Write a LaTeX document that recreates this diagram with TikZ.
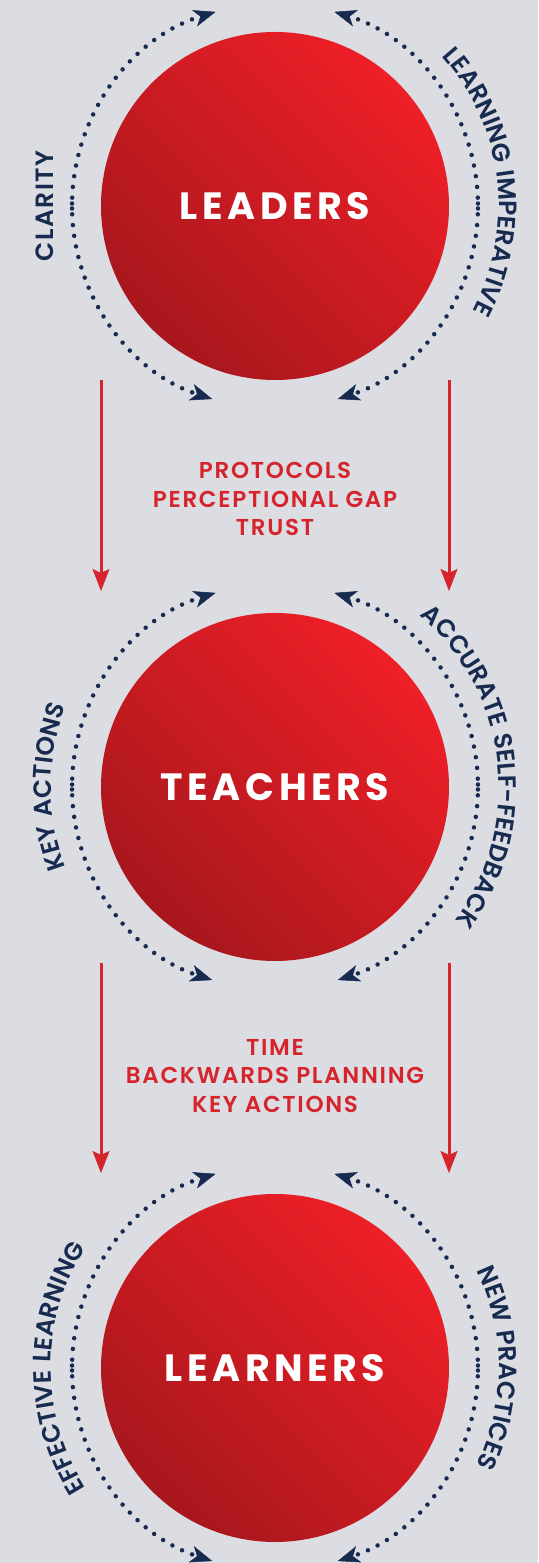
\documentclass[tikz,border=0pt]{standalone}
\usepackage{fontspec}
\usetikzlibrary{arrows.meta,decorations.text}

\newfontfamily\semib{Poppins SemiBold}
\newfontfamily\boldp{Poppins Bold}

\definecolor{bgcol}{HTML}{DCDDE2}
\definecolor{navy}{HTML}{172A4F}
\definecolor{lblred}{HTML}{D6242C}
\definecolor{discbright}{HTML}{EE1F27}
\definecolor{discmid}{HTML}{CF1C23}
\definecolor{discdark}{HTML}{A7171D}

\newcommand\titlefont{\boldp\fontsize{38}{38}\selectfont\addfontfeatures{LetterSpace=12}}
\newcommand\labelfont{\semib\fontsize{25}{25}\selectfont\addfontfeatures{LetterSpace=6}}
\newcommand\redfont{\semib\fontsize{23}{28.5}\selectfont\addfontfeatures{LetterSpace=7.5}}

\tikzset{
  disc/.style={circle, minimum size=348pt, inner sep=0pt,
    top color=discbright, middle color=discmid, bottom color=discdark,
    shading angle=-45, text=white, font=\titlefont},
  redlabel/.style={align=center, text=lblred, font=\redfont},
  sidelabel/.style={text=navy, font=\labelfont},
  dotarc/.style={draw=navy, line width=4.5pt, line cap=round,
    dash pattern=on 0pt off 10.8pt,
    -{Stealth[length=22pt,width=17pt,inset=6pt,line width=0.5pt]}},
  flowarrow/.style={draw=lblred, line width=3pt,
    -{Stealth[length=22pt,width=17pt,inset=4pt,line width=0.5pt]}}
}

% dotted double arcs around a disc, each half starting at the side
\newcommand\ringarrows[1]{%
  \draw[dotarc] ([shift={(180.7:203pt)}]#1.center) arc[start angle=180.7, end angle=107, radius=203pt];
  \draw[dotarc] ([shift={(179.3:203pt)}]#1.center) arc[start angle=179.3, end angle=252, radius=203pt];
  \draw[dotarc] ([shift={(-0.7:203pt)}]#1.center) arc[start angle=-0.7, end angle=73, radius=203pt];
  \draw[dotarc] ([shift={(0.7:203pt)}]#1.center) arc[start angle=0.7, end angle=-72, radius=203pt];}

% navy text set along a clockwise arc around a disc
\newcommand\arclabel[4]{%
  \path[decorate, decoration={text along path, text align=center, text color=navy,
      text={|\labelfont|#4}}]
    ([shift={(#2:224pt)}]#1.center) arc[start angle=#2, end angle=#3, radius=224pt];}

\begin{document}
\begin{tikzpicture}[x=1pt, y=1pt]
  \useasboundingbox (0,0) rectangle (538,1563);
  \fill[bgcol] (0,0) rectangle (538,1563);

  % the three discs
  \node[disc] (lead)  at (275,1357) {LEADERS};
  \node[disc] (teach) at (275,776)  {TEACHERS};
  \node[disc] (learn) at (275,195)  {LEARNERS};

  \ringarrows{lead}
  \ringarrows{teach}
  \ringarrows{learn}

  % side labels
  \node[sidelabel, rotate=90] (clarity) at ([xshift=-230pt]lead.center) {CLARITY};
  \arclabel{lead}{77}{-63}{LEARNING IMPERATIVE}
  \arclabel{teach}{250}{110}{KEY ACTIONS}
  \arclabel{teach}{80}{-67}{ACCURATE SELF-FEEDBACK}
  \arclabel{learn}{250}{110}{EFFECTIVE LEARNING}
  \arclabel{learn}{70}{-70}{NEW PRACTICES}

  % downward flow arrows
  \coordinate (la1) at (101,1183); \coordinate (lb1) at (101,972);
  \coordinate (ra1) at (449,1183); \coordinate (rb1) at (449,972);
  \coordinate (la2) at (101,600);  \coordinate (lb2) at (101,390);
  \coordinate (ra2) at (449,600);  \coordinate (rb2) at (449,390);
  \draw[flowarrow] (la1) -- (lb1);
  \draw[flowarrow] (ra1) -- (rb1);
  \draw[flowarrow] (la2) -- (lb2);
  \draw[flowarrow] (ra2) -- (rb2);

  % transition labels
  \node[redlabel] (mid1) at (275,1064) {PROTOCOLS\\PERCEPTIONAL GAP\\TRUST};
  \node[redlabel] (mid2) at (275,487)  {TIME\\BACKWARDS PLANNING\\KEY ACTIONS};
\end{tikzpicture}
\end{document}
